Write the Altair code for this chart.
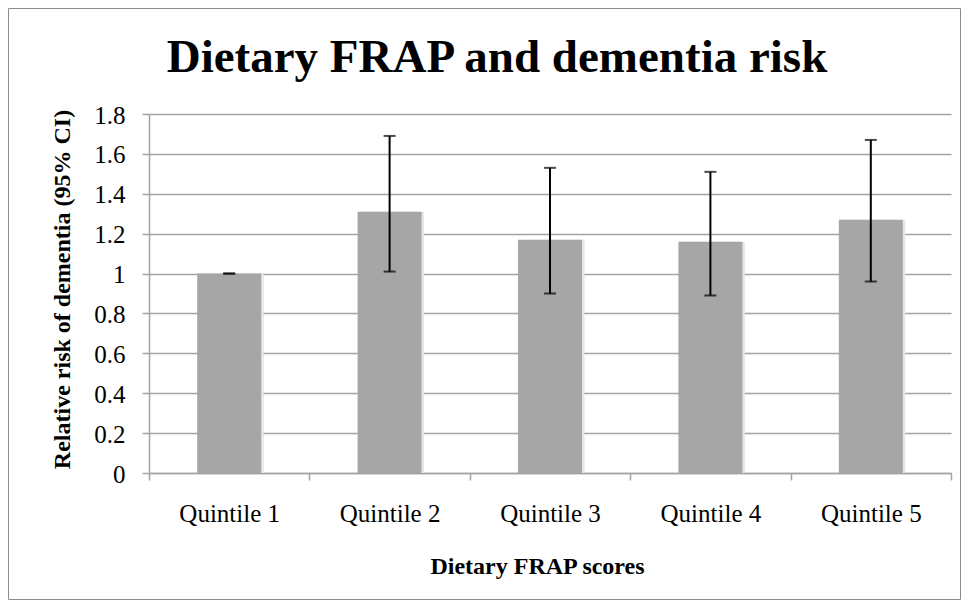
import altair as alt
import pandas as pd

quintiles = ["Quintile 1", "Quintile 2", "Quintile 3", "Quintile 4", "Quintile 5"]
relative_risk = [1.00, 1.31, 1.17, 1.16, 1.27]
ci_low = [1.00, 1.01, 0.90, 0.89, 0.96]
ci_high = [1.00, 1.69, 1.53, 1.51, 1.67]
y_tick_values = [0, 0.2, 0.4, 0.6, 0.8, 1.0, 1.2, 1.4, 1.6, 1.8]
chart_title = "Dietary FRAP and dementia risk"
x_title = "Dietary FRAP scores"
y_title = "Relative risk of dementia (95% CI)"

df = pd.DataFrame({"q": quintiles, "rr": relative_risk, "lo": ci_low, "hi": ci_high})
one = pd.DataFrame({"t": [chart_title]})

FONT = "Liberation Serif"
W, H = 802, 359
GRID = "#a3a3a3"

x_axis = alt.Axis(
    title=x_title,
    tickBand="extent",
    labelAngle=0,
    labelFont=FONT,
    labelFontSize=25,
    labelColor="#000000",
    labelBaseline="alphabetic",
    labelPadding=41,
    tickSize=7,
    tickColor=GRID,
    tickWidth=1.5,
    domainColor=GRID,
    domainWidth=1.5,
    titleFont=FONT,
    titleFontSize=24,
    titleFontWeight="bold",
    titleColor="#000000",
    titleX=388,
    titleY=100,
    titleBaseline="alphabetic",
    titleAlign="center",
    grid=False,
)
x_scale = alt.Scale(paddingInner=0, paddingOuter=0)

y_scale = alt.Scale(domain=[0, 1.8], nice=False, zero=True)
y_axis = alt.Axis(
    title=y_title,
    values=y_tick_values,
    format=".1~f",
    labelOverlap=False,
    grid=True,
    gridColor=GRID,
    gridWidth=1.3,
    tickSize=7,
    tickColor=GRID,
    tickWidth=1.5,
    domainColor=GRID,
    domainWidth=1.5,
    labelFont=FONT,
    labelFontSize=25,
    labelColor="#000000",
    labelPadding=17,
    labelBaseline="middle",
    labelOffset=1,
    titleFont=FONT,
    titleFontSize=24,
    titleFontWeight="bold",
    titleColor="#000000",
    titleX=-87,
    titleY=175,
    titleAngle=-90,
    titleBaseline="middle",
    titleAlign="center",
)


def X():
    return alt.X("q:N", sort=quintiles, scale=x_scale, axis=x_axis)


def Y(field):
    return alt.Y(field, scale=y_scale, axis=y_axis)


base = alt.Chart(df)

shadow = base.mark_bar(size=64, color="#e6e6e6", xOffset=2.5).encode(x=X(), y=Y("rr:Q"))
bars = base.mark_bar(size=64, color="#a6a6a6").encode(x=X(), y=Y("rr:Q"))
err = base.mark_rule(color="#000000", strokeWidth=2).encode(x=X(), y=Y("lo:Q"), y2="hi:Q")
cap_hi = base.mark_tick(color="#000000", thickness=2, size=12, orient="horizontal").encode(
    x=X(), y=Y("hi:Q")
)
cap_lo = base.mark_tick(color="#000000", thickness=2, size=12, orient="horizontal").encode(
    x=X(), y=Y("lo:Q")
)

border = alt.Chart(one).mark_rect(fill="transparent", stroke="#8c8c8c", strokeWidth=1).encode(
    x=alt.value(-140.5), x2=alt.value(811.5), y=alt.value(-105.5), y2=alt.value(485.5)
)

title = alt.Chart(one).mark_text(
    font=FONT, fontSize=47, fontWeight="bold", color="#000000",
    align="center", baseline="alphabetic",
).encode(text="t:N", x=alt.value(348), y=alt.value(-42))

chart = alt.layer(border, shadow, bars, err, cap_hi, cap_lo, title).properties(
    width=W,
    height=H,
    padding={"left": 141, "top": 106, "right": 10, "bottom": 127},
    autosize=alt.AutoSizeParams(type="none"),
    background="#ffffff",
).configure_view(stroke=None)

chart.save("out.html", embed_options={"renderer": "svg", "actions": False})
